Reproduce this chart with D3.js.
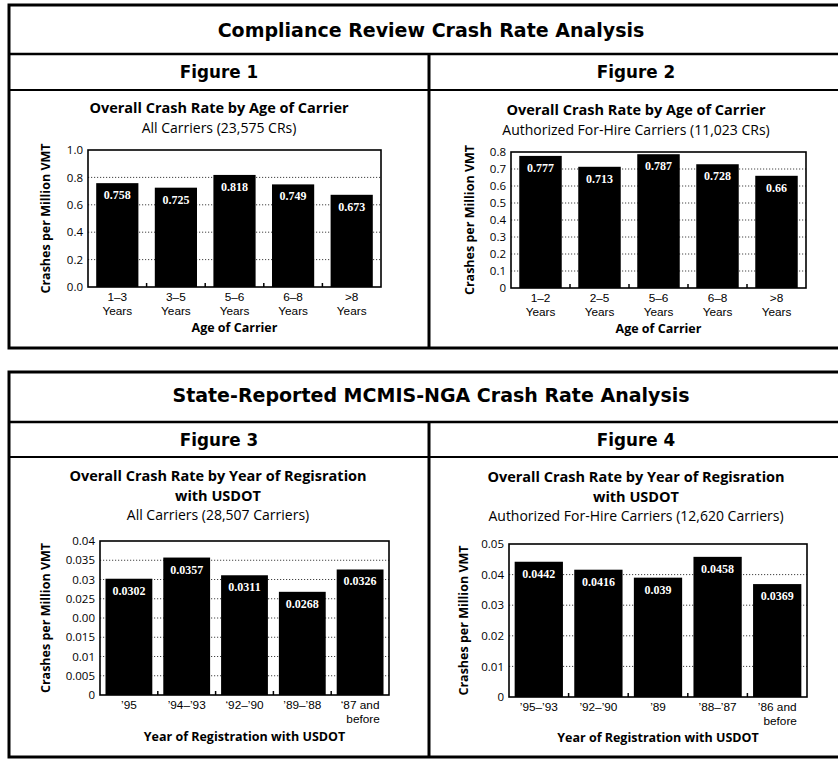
<!DOCTYPE html>
<html>
<head>
<meta charset="utf-8">
<script src="https://cdn.jsdelivr.net/npm/d3@7/dist/d3.min.js"></script>
<style>
  body { margin:0; background:#fff; }
  .head { font-family:"DejaVu Sans", sans-serif; font-weight:700; }
  .ttl  { font-family:"Open Sans", "Noto Sans", sans-serif; font-weight:700; font-size:14.5px; }
  .sub  { font-family:"Open Sans", "Noto Sans", sans-serif; font-weight:400; font-size:14px; }
  .tick text { font-family:"Open Sans", "Noto Sans", sans-serif; font-size:11.5px; fill:#000; }
  .cat  { font-family:"Liberation Sans", Arial, sans-serif; font-size:11.8px; }
  .atl  { font-family:"Open Sans", "Noto Sans", sans-serif; font-weight:700; font-size:12.5px; }
  .val  { font-family:"Liberation Serif", "Times New Roman", serif; font-weight:700; font-size:12px; fill:#fff; }
</style>
</head>
<body>
<svg width="838" height="761"></svg>
<script>
// ---- data ----
let fig1Cats = [["1–3","Years"],["3–5","Years"],["5–6","Years"],["6–8","Years"],[">8","Years"]]
let fig1Vals = [0.758, 0.725, 0.818, 0.749, 0.673]
let fig1Ticks = [0, 0.2, 0.4, 0.6, 0.8, 1.0]
let fig1TickLabels = ["0.0","0.2","0.4","0.6","0.8","1.0"]

let fig2Cats = [["1–2","Years"],["2–5","Years"],["5–6","Years"],["6–8","Years"],[">8","Years"]]
let fig2Vals = [0.777, 0.713, 0.787, 0.728, 0.66]
let fig2Ticks = [0, 0.1, 0.2, 0.3, 0.4, 0.5, 0.6, 0.7, 0.8]
let fig2TickLabels = ["0","0.1","0.2","0.3","0.4","0.5","0.6","0.7","0.8"]

let fig3Cats = [["’95"],["’94–’93"],["‘92–’90"],["’89–’88"],["‘87 and","before"]]
let fig3Vals = [0.0302, 0.0357, 0.0311, 0.0268, 0.0326]
let fig3Ticks = [0, 0.005, 0.01, 0.015, 0.02, 0.025, 0.03, 0.035, 0.04]
let fig3TickLabels = ["0","0.005","0.01","0.015","0.00","0.025","0.03","0.035","0.04"]

let fig4Cats = [["’95–’93"],["’92–’90"],["’89"],["’88–’87"],["’86 and","before"]]
let fig4Vals = [0.0442, 0.0416, 0.039, 0.0458, 0.0369]
let fig4Ticks = [0, 0.01, 0.02, 0.03, 0.04, 0.05]
let fig4TickLabels = ["0","0.01","0.02","0.03","0.04","0.05"]

let svg = d3.select('svg')

// ---- frames ----
function box(y1, y2, title, titleY, lineY, figY, figs){
  svg.append("rect").attr("x",9).attr("y",y1).attr("width",840).attr("height",y2-y1)
     .attr("fill","none").attr("stroke","#000").attr("stroke-width",3)
  svg.append("line").attr("x1",9).attr("x2",838).attr("y1",lineY).attr("y2",lineY)
     .attr("stroke","#000").attr("stroke-width",2.5)
  svg.append("line").attr("x1",9).attr("x2",838).attr("y1",figY).attr("y2",figY)
     .attr("stroke","#000").attr("stroke-width",2)
  svg.append("line").attr("x1",429).attr("x2",429).attr("y1",lineY).attr("y2",y2)
     .attr("stroke","#000").attr("stroke-width",3)
  svg.append("text").attr("class","head").attr("x",431).attr("y",titleY)
     .attr("text-anchor","middle").attr("font-size",19).text(title)
  svg.append("text").attr("class","head").attr("x",219).attr("y",(lineY+figY)/2+6)
     .attr("text-anchor","middle").attr("font-size",16.8).text(figs[0])
  svg.append("text").attr("class","head").attr("x",636).attr("y",(lineY+figY)/2+6)
     .attr("text-anchor","middle").attr("font-size",16.8).text(figs[1])
}
box(5, 348, "Compliance Review Crash Rate Analysis", 37, 54, 90, ["Figure 1","Figure 2"])
box(372, 757, "State-Reported MCMIS-NGA Crash Rate Analysis", 402, 422, 457, ["Figure 3","Figure 4"])

// ---- chart ----
function chart(c){
  let g = svg.append("g")
  c.titles.forEach(function(t,i){
    g.append("text").attr("class", i < c.boldLines ? "ttl" : "sub")
     .attr("x",c.cx).attr("y",c.titleY + i*19.5).attr("text-anchor","middle").text(t)
  })

  let x = d3.scaleBand().domain(d3.range(c.vals.length))
            .range([c.x0, c.x1]).paddingInner(c.pad).paddingOuter(c.pad/2)
  let y = d3.scaleLinear().domain([0, c.max]).range([c.y1, c.y0])

  // dotted grid
  g.selectAll(".grid").data(c.ticks.slice(1, -1)).enter().append("line")
   .attr("x1",c.x0).attr("x2",c.x1)
   .attr("y1",function(d){return y(d)}).attr("y2",function(d){return y(d)})
   .attr("stroke","#444").attr("stroke-width",1).attr("stroke-dasharray","1.2,1.8")

  // bars
  g.selectAll(".bar").data(c.vals).enter().append("rect")
   .attr("x",function(d,i){return x(i)}).attr("width",x.bandwidth())
   .attr("y",function(d){return y(d)}).attr("height",function(d){return y(0)-y(d)})
   .attr("fill","#000")

  g.selectAll(".val").data(c.vals).enter().append("text").attr("class","val")
   .attr("x",function(d,i){return x(i)+x.bandwidth()/2})
   .attr("y",function(d){return y(d)+16})
   .attr("text-anchor","middle").text(function(d){return d})

  // little marks between bars
  g.selectAll(".sep").data(d3.range(1, c.vals.length)).enter().append("line")
   .attr("x1",function(i){return x(i)-x.step()*c.pad/2}).attr("x2",function(i){return x(i)-x.step()*c.pad/2})
   .attr("y1",y(0)).attr("y2",y(0)-4).attr("stroke","#000").attr("stroke-width",1.5)

  // plot frame
  g.append("rect").attr("x",c.x0).attr("y",c.y0).attr("width",c.x1-c.x0).attr("height",c.y1-c.y0)
   .attr("fill","none").attr("stroke","#000").attr("stroke-width",1.6)

  // y axis
  let ax = g.append("g").attr("transform","translate("+c.x0+",0)")
    .call(d3.axisLeft(y).tickValues(c.ticks).tickSize(0).tickPadding(5)
      .tickFormat(function(d,i){return c.tickLabels[i]}))
  ax.select(".domain").remove()

  // category labels (one text per category, lines as tspans)
  c.cats.forEach(function(lines,i){
    let cx = x(i)+x.bandwidth()/2
    let t = g.append("text").attr("class","cat").attr("text-anchor","middle")
             .attr("x",cx).attr("y",c.y1 + 14)
    lines.forEach(function(l,j){
      t.append("tspan").attr("x",cx + (j==1 && c.shiftSecond ? 3 : 0))
       .attr("dy", j==0 ? 0 : 13.6).text(l)
    })
  })

  g.append("text").attr("class","atl").attr("x",(c.x0+c.x1)/2).attr("y",c.y1+c.xTitleDy)
   .attr("text-anchor","middle").text(c.xTitle)

  g.append("text").attr("class","atl")
   .attr("transform","translate("+(c.yTitleX)+","+((c.y0+c.y1)/2)+") rotate(-90)")
   .attr("text-anchor","middle").text("Crashes per Million VMT")
}

chart({cats:fig1Cats, vals:fig1Vals, ticks:fig1Ticks, tickLabels:fig1TickLabels, max:1.0,
  x0:88, x1:381, y0:150, y1:287, pad:0.28, cx:219, titleY:113, boldLines:1,
  titles:["Overall Crash Rate by Age of Carrier","All Carriers (23,575 CRs)"],
  xTitle:"Age of Carrier", xTitleDy:45, yTitleX:50})

chart({cats:fig2Cats, vals:fig2Vals, ticks:fig2Ticks, tickLabels:fig2TickLabels, max:0.8,
  x0:511, x1:806, y0:152, y1:288, pad:0.28, cx:636, titleY:115, boldLines:1,
  titles:["Overall Crash Rate by Age of Carrier","Authorized For-Hire Carriers (11,023 CRs)"],
  xTitle:"Age of Carrier", xTitleDy:45, yTitleX:474})

chart({cats:fig3Cats, vals:fig3Vals, ticks:fig3Ticks, tickLabels:fig3TickLabels, max:0.04,
  x0:100, x1:389, y0:541, y1:695, pad:0.19, cx:218, titleY:481, boldLines:2,
  titles:["Overall Crash Rate by Year of Regisration","with USDOT","All Carriers (28,507 Carriers)"],
  xTitle:"Year of Registration with USDOT", xTitleDy:46, yTitleX:50, shiftSecond:true})

chart({cats:fig4Cats, vals:fig4Vals, ticks:fig4Ticks, tickLabels:fig4TickLabels, max:0.05,
  x0:509, x1:807, y0:544, y1:697, pad:0.19, cx:636, titleY:482, boldLines:2,
  titles:["Overall Crash Rate by Year of Regisration","with USDOT","Authorized For-Hire Carriers (12,620 Carriers)"],
  xTitle:"Year of Registration with USDOT", xTitleDy:45, yTitleX:468, shiftSecond:true})
</script>
</body>
</html>
